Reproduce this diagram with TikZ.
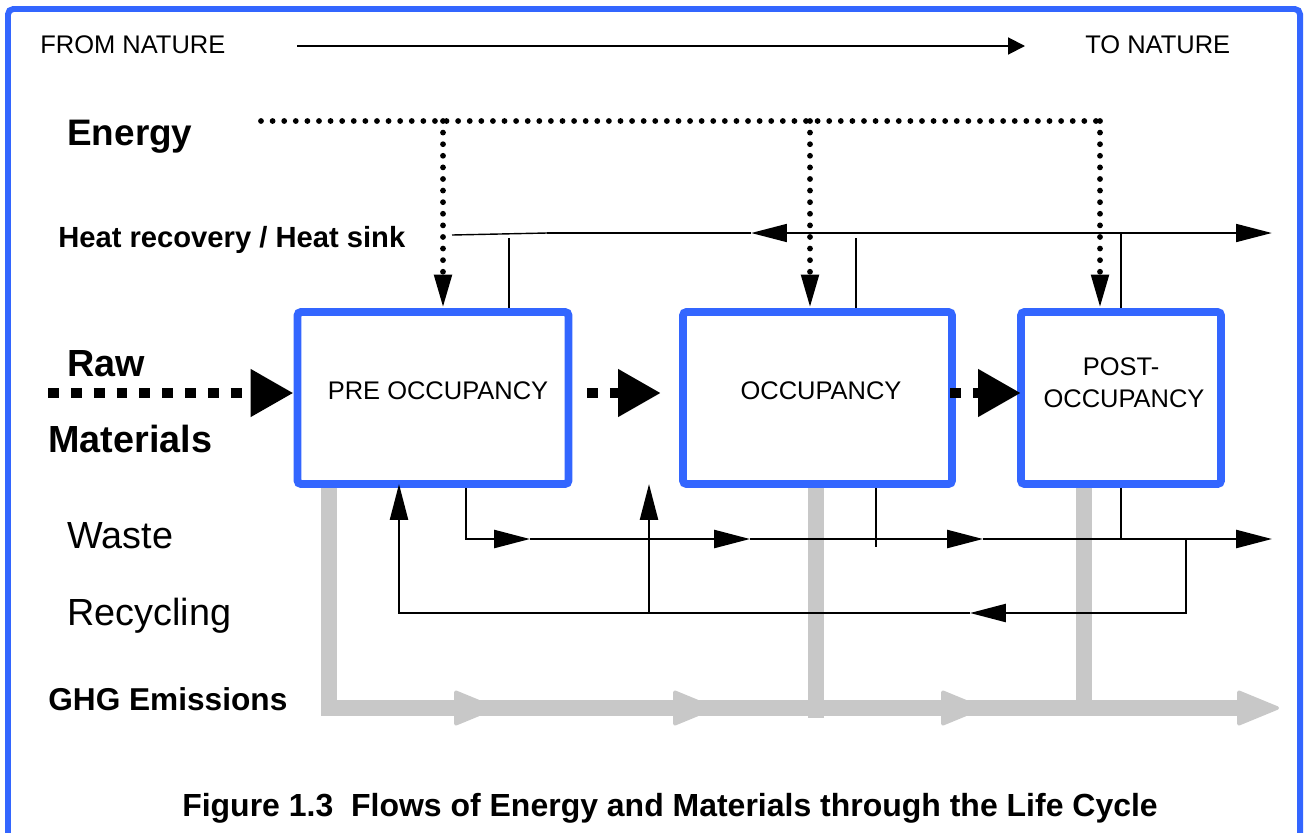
\documentclass[tikz,border=0pt]{standalone}
\usepackage{fontspec}
\setmainfont{Liberation Sans}
\usetikzlibrary{arrows.meta}
\definecolor{frameblue}{HTML}{3366FF}
\definecolor{ghg}{HTML}{C8C8C8}
\begin{document}
\begin{tikzpicture}[x=0.02cm,y=-0.02cm,
  txt/.style={inner sep=0pt, anchor=base west},
  boxtxt/.style={inner sep=0pt, anchor=base, font=\fontsize{14.5}{17}\selectfont},
  box/.style={draw=frameblue, line width=4.5pt, rounded corners=2pt, minimum height=3.44cm, inner sep=0pt},
  conn/.style={line width=1.1pt},
  flow/.style={line width=1.4pt},
  thinarr/.style={line width=1.4pt, -{Triangle[length=20.4pt,width=10.2pt]}},
  heatarr/.style={line width=1.7pt, -{Triangle[length=20.4pt,width=10pt]}},
  dotline/.style={line width=3.3pt, line cap=round, dash pattern=on 0pt off 6.6pt},
  dotarr/.style={dotline, -{Triangle[length=19pt,width=9.5pt]}},
  rawarr/.style={line width=6.2pt, dash pattern=on 6.2pt off 6.8pt, -{Triangle[length=24.4pt,width=25.5pt]}},
  ghgline/.style={draw=ghg, line width=9.3pt},
  ghgarr/.style={ghgline, -{Triangle[length=25.5pt,width=20.4pt,round,line width=2pt]}}
]
\useasboundingbox (0,0) rectangle (1310,832);
% outer frame
\draw[frameblue, line width=3.4pt, rounded corners=3pt] (8,840) -- (8,9) -- (1300,9) -- (1300,840);

% top direction arrow
\node[txt, font=\fontsize{14.5}{17}\selectfont] (from) at (40,53) {FROM NATURE};
\node[txt, font=\fontsize{14.5}{17}\selectfont] (to) at (1085,53) {TO NATURE};
\coordinate (ta) at (297,46);
\coordinate (tb) at (1025,46);
\draw[line width=1.1pt, -{Triangle[length=9.6pt,width=9.6pt]}] (ta) -- (tb);

% boxes
\node[box, minimum width=5.42cm] (pre) at (433,398) {};
\node[box, minimum width=5.38cm] (occ) at (817.5,398) {};
\node[box, minimum width=4.0cm] (post) at (1121,398) {};
\node[boxtxt] (pret) at (438,399) {PRE OCCUPANCY};
\node[boxtxt] (occt) at (821,399) {OCCUPANCY};
\node[boxtxt] (postt1) at (1121,375) {POST-};
\node[boxtxt] (postt2) at (1124,407) {OCCUPANCY};

% energy
\node[txt, font=\bfseries\fontsize{21}{25}\selectfont] (energy) at (67,145) {Energy};
\coordinate (e0) at (261,121);
\coordinate (e1) at (443,121);
\coordinate (e2) at (810,121);
\coordinate (e3) at (1100,121);
\coordinate (eend) at (1103,121);
\draw[dotline] (e0) -- (eend);
\draw[dotarr] (e1) -- (pre.north -| e1);
\draw[dotarr] (e2) -- (occ.north -| e2);
\draw[dotarr] (e3) -- (post.north -| e3);

% heat recovery / heat sink
\node[txt, font=\bfseries\fontsize{16.6}{20}\selectfont] (heat) at (58,247) {Heat recovery / Heat sink};
\coordinate (h0) at (452,235);
\coordinate (h1) at (547,233);
\coordinate (h2) at (751,233);
\coordinate (h3) at (1121,233);
\coordinate (h4) at (1272,233);
\draw[line width=0.8pt] (h0) -- (h1);
\draw[line width=1.7pt] (h1) -- (h2);
\draw[heatarr] (h3) -- (h2);
\draw[heatarr] (h3) -- (h4);
\coordinate (hv1) at (509,238);
\coordinate (hv2) at (856,238);
\draw[conn] (hv1) -- (pre.north -| hv1);
\draw[conn] (hv2) -- (occ.north -| hv2);
\draw[conn] (h3) -- (post.north -| h3);

% raw materials
\node[txt, font=\bfseries\fontsize{21.5}{25}\selectfont] (raw) at (67,376) {Raw};
\node[txt, font=\bfseries\fontsize{21.5}{25}\selectfont] (mat) at (48,452) {Materials};
\coordinate (r0) at (48,393);
\draw[rawarr] (r0) -- (pre.west |- r0);
\coordinate (m1a) at (587,393);
\coordinate (m1b) at (661,393);
\draw[rawarr] (m1a) -- (m1b);
\coordinate (m2a) at (950,393);
\coordinate (m2b) at (1021,393);
\draw[rawarr] (m2a) -- (m2b);

% GHG emissions
\node[txt, font=\bfseries\fontsize{18}{22}\selectfont] (ghgt) at (48,710) {GHG Emissions};
\coordinate (g0) at (329,708);
\coordinate (g1a) at (440,708);
\coordinate (g1) at (496,708);
\coordinate (g2a) at (660,708);
\coordinate (g2) at (715,708);
\coordinate (g3a) at (928,708);
\coordinate (g3) at (983,708);
\coordinate (g4) at (1279,708);
\coordinate (gv2) at (816,718);
\coordinate (gv3) at (1084,700);
\draw[ghgline] (occ.south -| gv2) -- (gv2);
\draw[ghgline] (post.south -| gv3) -- (gv3);
\draw[ghgarr] (pre.south -| g0) -- (g0) -- (g4);
\draw[ghgarr] (g1a) -- (g1);
\draw[ghgarr] (g2a) -- (g2);
\draw[ghgarr] (g3a) -- (g3);

% waste and recycling
\node[txt, font=\fontsize{21.5}{25}\selectfont] (waste) at (67,548) {Waste};
\node[txt, font=\fontsize{21.5}{25}\selectfont] (recyc) at (67,625) {Recycling};
\coordinate (w0) at (466,539);
\coordinate (w1) at (530,539);
\coordinate (w2) at (750,539);
\coordinate (w3) at (983,539);
\coordinate (w4) at (1272,539);
\draw[thinarr] (pre.south -| w0) -- (w0) -- (w1);
\draw[thinarr] (w1) -- (w2);
\draw[thinarr] (w2) -- (w3);
\draw[thinarr] (w3) -- (w4);
\coordinate (wv2) at (876,547);
\coordinate (wv3) at (1121,539);
\draw[conn] (occ.south -| wv2) -- (wv2);
\draw[conn] (post.south -| wv3) -- (wv3);
\coordinate (c0) at (1186,539);
\coordinate (c1) at (1186,613);
\coordinate (c2) at (970,613);
\coordinate (c3) at (399,613);
\coordinate (c4) at (399,484);
\coordinate (c5) at (649,613);
\coordinate (c6) at (649,484);
\draw[thinarr] (c0) -- (c1) -- (c2);
\draw[thinarr] (c2) -- (c3) -- (c4);
\draw[thinarr] (c5) -- (c6);

% caption
\node[inner sep=0pt, anchor=base, font=\bfseries\fontsize{18.2}{22}\selectfont] (cap) at (670,816) {Figure 1.3\ \ Flows of Energy and Materials through the Life Cycle};
\end{tikzpicture}
\end{document}
